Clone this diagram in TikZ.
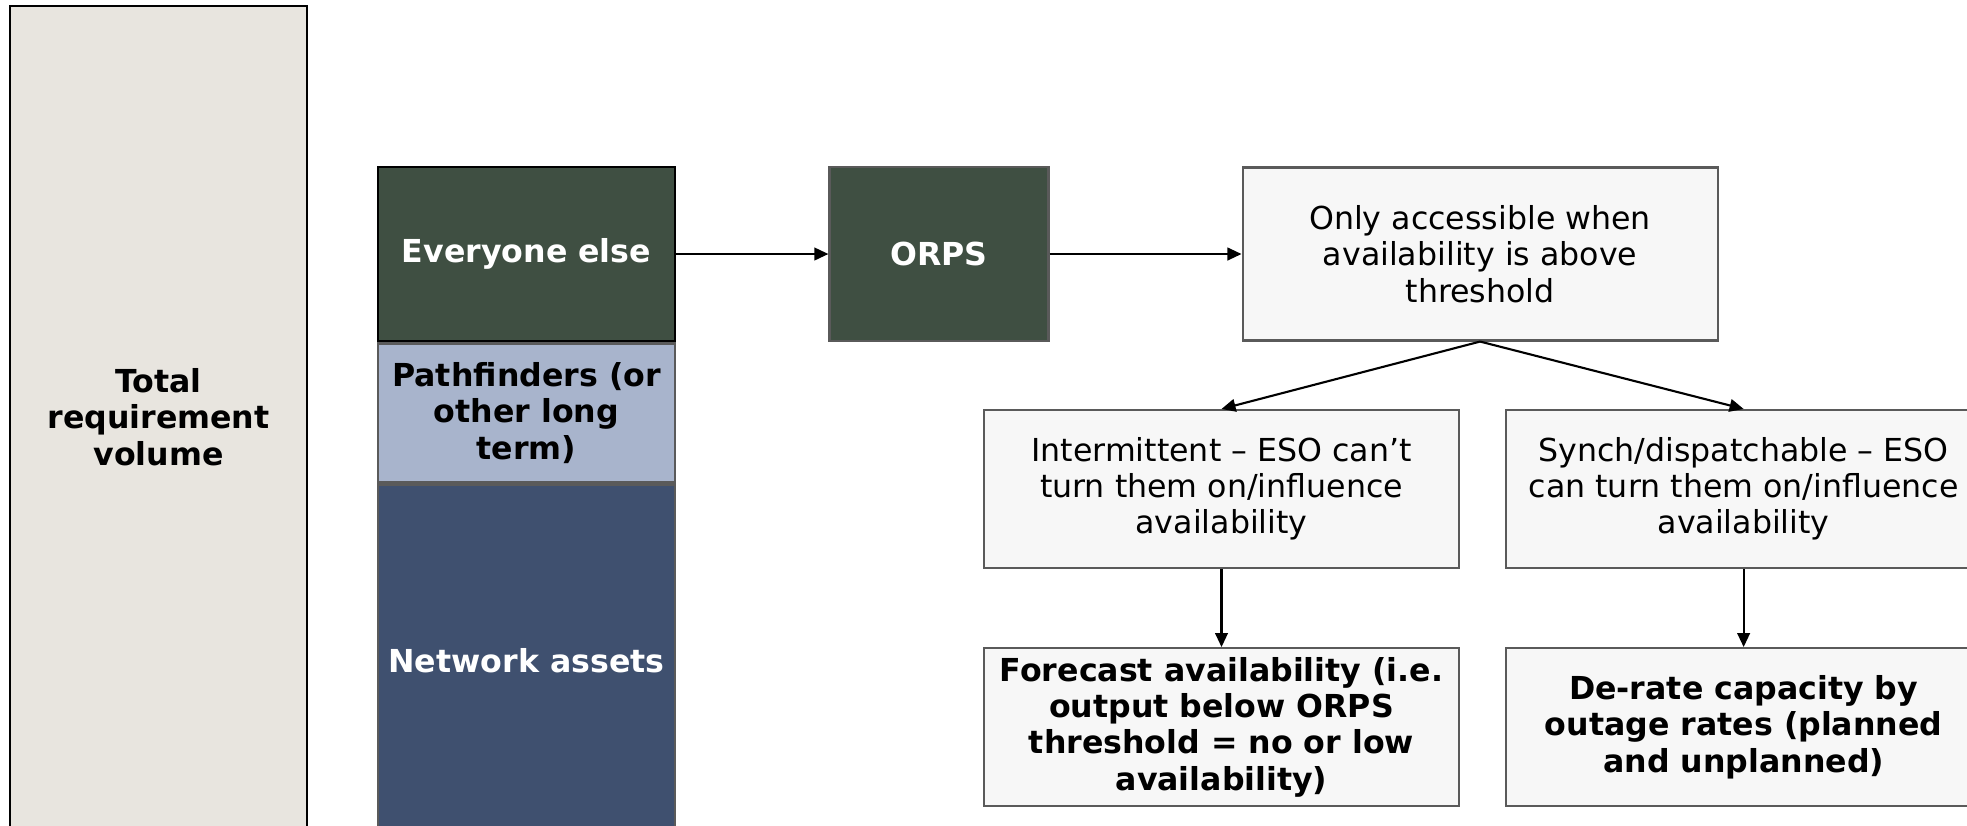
\documentclass[tikz,border=0pt]{standalone}
\usepackage{fontspec}
\setmainfont{DejaVu Sans}
\usepackage{tikz}
\usetikzlibrary{arrows.meta,positioning}
\definecolor{orpsgreen}{HTML}{3F4F42}
\definecolor{pathblue}{HTML}{A8B4CC}
\definecolor{netblue}{HTML}{3F506F}
\definecolor{totalbeige}{HTML}{E8E5DF}
\definecolor{boxfill}{HTML}{F7F7F7}
\definecolor{boxline}{HTML}{5A5A5A}

\begin{document}
\begin{tikzpicture}[
    font=\fontsize{9}{10.3}\selectfont,
    bar/.style={rectangle, draw=boxline, line width=0.6pt, minimum width=2.97cm, inner sep=0pt, font=\fontsize{9}{10.3}\selectfont\bfseries, text=white, align=center},
    box/.style={rectangle, draw=boxline, line width=0.6pt, fill=boxfill, minimum width=4.75cm, minimum height=1.58cm, inner sep=0pt, align=center},
    result/.style={box, font=\fontsize{9}{10.3}\selectfont\bfseries},
    arrow/.style={-{Triangle[length=4pt, width=3.6pt]}, line width=0.6pt}
]
\useasboundingbox (0,0) rectangle (19.67,-8.25);

% Total
\node[bar, draw=black, line width=0.8pt, fill=totalbeige, text=black, minimum height=8.22cm] (total) at (1.585,-4.17) {Total\\requirement\\volume};

% Stack
\node[bar, draw=black, line width=0.8pt, fill=orpsgreen, minimum height=1.74cm] (ever) at (5.265,-2.54) {Everyone else};
\node[bar, fill=pathblue, text=black, minimum height=1.39cm, below=0cm of ever] (path) {Pathfinders (or\\other long\\term)};
\node[bar, fill=netblue, minimum height=3.52cm, below=0cm of path] (net) {Network assets};

% ORPS
\node[bar, fill=orpsgreen, minimum width=2.19cm, minimum height=1.74cm, right=1.52cm of ever] (orps) {ORPS};
\node[box, minimum height=1.73cm, right=1.92cm of orps] (only) {Only accessible when\\availability is above\\threshold};

% Availability types
\node[box] (inter) at (12.215,-4.89) {Intermittent – ESO can’t\\turn them on/influence\\availability};
\node[box, right=0.45cm of inter] (synch) {Synch/dispatchable – ESO\\can turn them on/influence\\availability};

% Results
\node[result, below=0.78cm of inter] (fore) {Forecast availability (i.e.\\output below ORPS\\threshold = no or low\\availability)};
\node[result, below=0.78cm of synch] (derate) {De-rate capacity by\\outage rates (planned\\and unplanned)};

% Arrows
\draw[arrow] (ever) -- (orps);
\draw[arrow] (orps) -- (only);
\draw[arrow] (only.south) -- (inter.north);
\draw[arrow] (only.south) -- (synch.north);
\draw[arrow] (inter) -- (fore);
\draw[arrow] (synch) -- (derate);

\end{tikzpicture}
\end{document}
